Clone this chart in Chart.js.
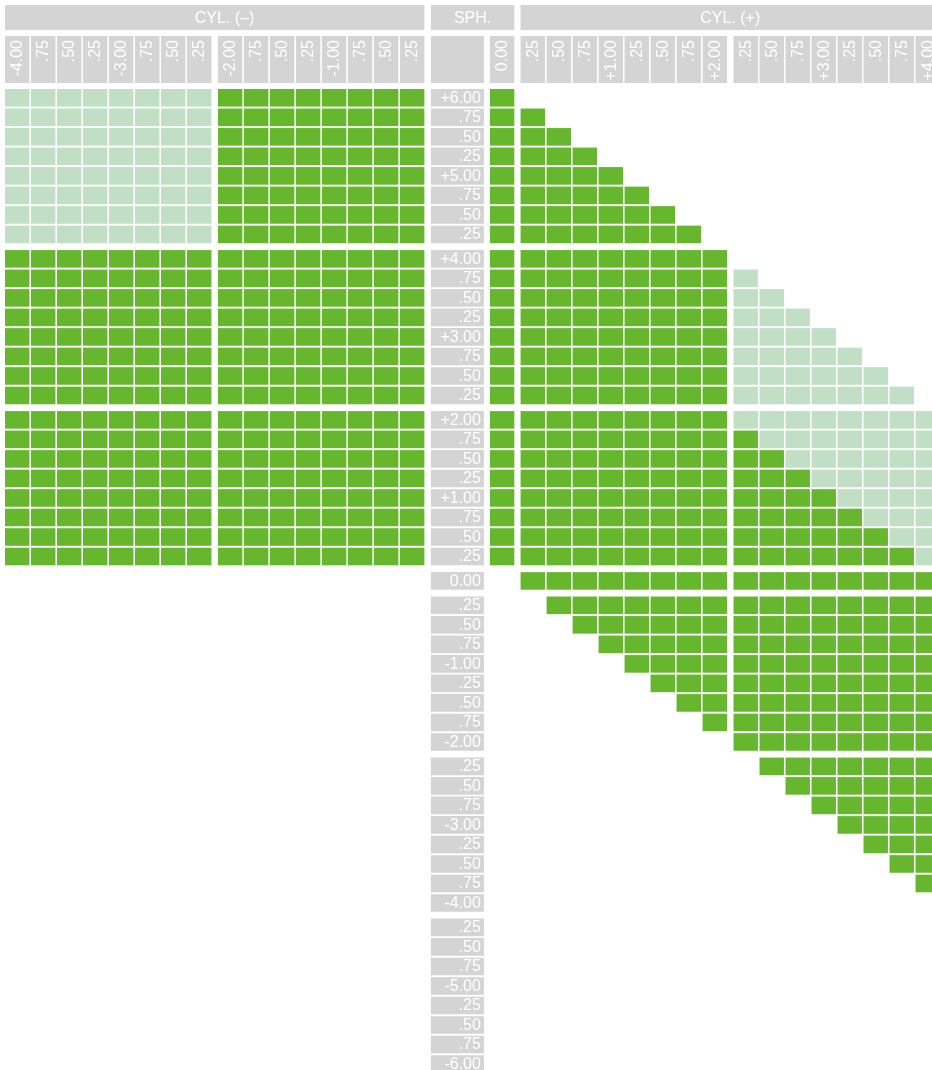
<!DOCTYPE html>
<html>
<head>
<meta charset="utf-8">
<title>SPH / CYL</title>
<script src="https://cdn.jsdelivr.net/npm/chart.js@4.4.1/dist/chart.umd.min.js"></script>
<style>
  body { margin: 0; background: #fff; }
  canvas { display: block; }
</style>
</head>
<body>
<canvas id="grid" width="932" height="1070"></canvas>
<script>
// ---- data ----
const headerTitles = ['CYL. (–)', 'SPH.', 'CYL. (+)'];
const cylMinusLabels = ['-4.00', '.75', '.50', '.25', '-3.00', '.75', '.50', '.25',
                        '-2.00', '.75', '.50', '.25', '-1.00', '.75', '.50', '.25'];
const cylZeroLabel = '0.00';
const cylPlusLabels = ['.25', '.50', '.75', '+1.00', '.25', '.50', '.75', '+2.00',
                       '.25', '.50', '.75', '+3.00', '.25', '.50', '.75', '+4.00'];
const sphLabels = ['+6.00', '.75', '.50', '.25', '+5.00', '.75', '.50', '.25',
                   '+4.00', '.75', '.50', '.25', '+3.00', '.75', '.50', '.25',
                   '+2.00', '.75', '.50', '.25', '+1.00', '.75', '.50', '.25',
                   '0.00',
                   '.25', '.50', '.75', '-1.00', '.25', '.50', '.75', '-2.00',
                   '.25', '.50', '.75', '-3.00', '.25', '.50', '.75', '-4.00',
                   '.25', '.50', '.75', '-5.00', '.25', '.50', '.75', '-6.00'];
const sphGroups = [8, 8, 8, 1, 8, 8, 8];

// one string per SPH row, one char per CYL column:
// -4.00 .. -0.25 | 0.00 | +0.25 .. +4.00   ('#' dark, '+' light, '.' empty)
const stock = [
  '++++++++ ######## # ........ ........',
  '++++++++ ######## # #....... ........',
  '++++++++ ######## # ##...... ........',
  '++++++++ ######## # ###..... ........',
  '++++++++ ######## # ####.... ........',
  '++++++++ ######## # #####... ........',
  '++++++++ ######## # ######.. ........',
  '++++++++ ######## # #######. ........',
  '######## ######## # ######## ........',
  '######## ######## # ######## +.......',
  '######## ######## # ######## ++......',
  '######## ######## # ######## +++.....',
  '######## ######## # ######## ++++....',
  '######## ######## # ######## +++++...',
  '######## ######## # ######## ++++++..',
  '######## ######## # ######## +++++++.',
  '######## ######## # ######## ++++++++',
  '######## ######## # ######## #+++++++',
  '######## ######## # ######## ##++++++',
  '######## ######## # ######## ###+++++',
  '######## ######## # ######## ####++++',
  '######## ######## # ######## #####+++',
  '######## ######## # ######## ######++',
  '######## ######## # ######## #######+',
  '........ ........ . ######## ########',
  '........ ........ . .####### ########',
  '........ ........ . ..###### ########',
  '........ ........ . ...##### ########',
  '........ ........ . ....#### ########',
  '........ ........ . .....### ########',
  '........ ........ . ......## ########',
  '........ ........ . .......# ########',
  '........ ........ . ........ ########',
  '........ ........ . ........ .#######',
  '........ ........ . ........ ..######',
  '........ ........ . ........ ...#####',
  '........ ........ . ........ ....####',
  '........ ........ . ........ .....###',
  '........ ........ . ........ ......##',
  '........ ........ . ........ .......#',
  '........ ........ . ........ ........',
  '........ ........ . ........ ........',
  '........ ........ . ........ ........',
  '........ ........ . ........ ........',
  '........ ........ . ........ ........',
  '........ ........ . ........ ........',
  '........ ........ . ........ ........',
  '........ ........ . ........ ........',
  '........ ........ . ........ ........'
];

// ---- layout (column / row units) ----
const W = 932, H = 1070;
const colPx = 26, rowPx = 19.52;
const originX = 5, originY = 97.8;
const gapX = 0.19, gapY = 0.25;
const cellW = 0.94, cellH = 17.6;
const head1H = 25, head2H = 47;
const head1Y = -4.11, head2Y = -1.96;

const minusX = cylMinusLabels.map((_, i) => i + (i >= 8 ? gapX : 0));
const sphX = 16 + 2 * gapX, sphW = 2.04;
const zeroX = sphX + 2.27;
const plusX = cylPlusLabels.map((_, i) => zeroX + 1.18 + i + (i >= 8 ? gapX : 0));
const cylX = [...minusX, zeroX, ...plusX];
const cylLabels = [...cylMinusLabels, cylZeroLabel, ...cylPlusLabels];

const rowY = [];
sphGroups.forEach((n, g) => {
  for (let i = 0; i < n; i++) rowY.push(rowY.length + g * gapY);
});

const GRAY = '#d4d4d4';
const DARK = '#67b72e';
const LIGHT = '#c1dfc5';

function cells(mark) {
  const out = [];
  stock.forEach((row, r) => {
    row.replace(/ /g, '').split('').forEach((ch, c) => {
      if (ch === mark) out.push({ x: [cylX[c], cylX[c] + cellW], y: rowY[r] });
    });
  });
  return out;
}

const head1Boxes = [
  { x: [minusX[0], minusX[15] + cellW], y: head1Y },
  { x: [sphX, zeroX + cellW], y: head1Y },
  { x: [plusX[0], plusX[15] + cellW], y: head1Y }
];
const titleNudge = [0.38, 0, 0];
const head2Boxes = cylX.map(v => ({ x: [v, v + cellW], y: head2Y }))
  .concat([{ x: [sphX, sphX + sphW], y: head2Y }]);
const sphBoxes = rowY.map(v => ({ x: [sphX, sphX + sphW], y: v }));

const FONT = '"Liberation Sans", Arial, sans-serif';

const labelPlugin = {
  id: 'gridLabels',
  afterDatasetsDraw(chart) {
    const { ctx, scales: { x, y } } = chart;
    ctx.save();
    ctx.fillStyle = '#fff';
    ctx.textBaseline = 'middle';

    ctx.font = '16px ' + FONT;
    ctx.textAlign = 'center';
    headerTitles.forEach((t, i) => {
      const b = head1Boxes[i];
      ctx.fillText(t, x.getPixelForValue((b.x[0] + b.x[1]) / 2 + titleNudge[i]), y.getPixelForValue(head1Y) + 1);
    });

    // column labels, turned to read upwards
    ctx.font = '16px ' + FONT;
    ctx.textAlign = 'right';
    const top = y.getPixelForValue(head2Y) - head2H / 2 + 4;
    cylLabels.forEach((t, c) => {
      ctx.save();
      ctx.translate(x.getPixelForValue(cylX[c] + cellW / 2) + 0.5, top);
      ctx.rotate(-Math.PI / 2);
      ctx.fillText(t, 0, 0);
      ctx.restore();
    });

    const sx = x.getPixelForValue(sphX + sphW) - 3;
    sphLabels.forEach((t, r) => ctx.fillText(t, sx, y.getPixelForValue(rowY[r]) + 0.5));
    ctx.restore();
  }
};

new Chart(document.getElementById('grid'), {
  type: 'bar',
  data: {
    datasets: [
      { label: 'header', data: head1Boxes, backgroundColor: GRAY, barThickness: head1H },
      { label: 'columns', data: head2Boxes, backgroundColor: GRAY, barThickness: head2H },
      { label: 'sph', data: sphBoxes, backgroundColor: GRAY, barThickness: cellH },
      { label: 'available', data: cells('#'), backgroundColor: DARK, barThickness: cellH },
      { label: 'other', data: cells('+'), backgroundColor: LIGHT, barThickness: cellH }
    ]
  },
  options: {
    indexAxis: 'y',
    responsive: false,
    animation: false,
    grouped: false,
    inflateAmount: 0,
    borderWidth: 0,
    layout: { padding: 0 },
    scales: {
      x: { type: 'linear', offset: false, min: -originX / colPx, max: (W - originX) / colPx, display: false },
      y: { type: 'linear', offset: false, min: -originY / rowPx, max: (H - originY) / rowPx, reverse: true, display: false }
    },
    plugins: {
      legend: { display: false },
      tooltip: { enabled: false }
    }
  },
  plugins: [labelPlugin]
});
</script>
</body>
</html>
